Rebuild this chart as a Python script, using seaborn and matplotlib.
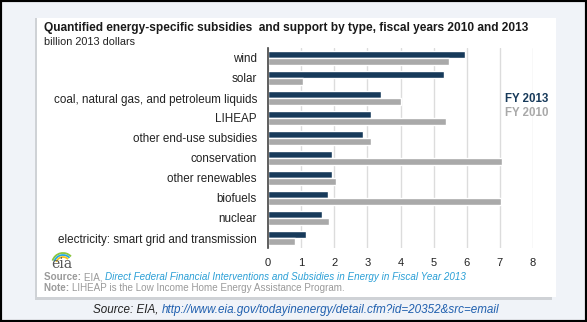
import matplotlib
matplotlib.use("Agg")
import matplotlib.pyplot as plt
import seaborn as sns
import pandas as pd
from matplotlib.patches import Rectangle, Arc

categories = ["wind", "solar", "coal, natural gas, and petroleum liquids", "LIHEAP",
              "other end-use subsidies", "conservation", "other renewables",
              "biofuels", "nuclear", "electricity: smart grid and transmission"]
fy2013 = [5.94, 5.32, 3.42, 3.10, 2.86, 1.94, 1.94, 1.80, 1.64, 1.15]
fy2010 = [5.45, 1.06, 4.03, 5.37, 3.10, 7.07, 2.06, 7.02, 1.85, 0.81]
series = ["FY 2013", "FY 2010"]
xticks = [0, 1, 2, 3, 4, 5, 6, 7, 8]

df = pd.DataFrame({
    "category": categories * 2,
    "value": fy2013 + fy2010,
    "series": [series[0]] * len(categories) + [series[1]] * len(categories),
})

NAVY = "#173a5a"
GRAY = "#a9a9a9"

sns.set_theme(style="white")
plt.rcParams["font.family"] = ["Liberation Sans", "DejaVu Sans"]

W, H = 587, 322
fig = plt.figure(figsize=(W / 100, H / 100), dpi=100)
fig.patch.set_facecolor("#f0f3f8")

def fx(x):
    return x / W

def fy(y):
    return 1 - y / H

# black border
fig.patches.append(Rectangle((0, 0), 1, 1, transform=fig.transFigure, fill=False,
                             edgecolor="black", lw=3, zorder=-3))
# card shadow + card
fig.patches.append(Rectangle((fx(35), fy(300)), fx(552 - 35), (300 - 18) / H,
                             transform=fig.transFigure, facecolor="#cfd2d6",
                             edgecolor="none", zorder=-3))
fig.patches.append(Rectangle((fx(37), fy(297)), fx(556 - 37), (297 - 18) / H,
                             transform=fig.transFigure, facecolor="white",
                             edgecolor="none", zorder=-2))

ax = fig.add_axes([fx(268), fy(248), fx(533 - 268), (248 - 48) / H])
ax.set_facecolor("none")
sns.barplot(data=df, y="category", x="value", hue="series", hue_order=series,
            order=categories, palette=[NAVY, GRAY], orient="h", width=0.72,
            gap=0, saturation=1, ax=ax, legend=False)
ax.set_xlim(0, 8)
ax.set_xticks(xticks)
ax.set_xticklabels([str(t) for t in xticks])
ax.set_xlabel("")
ax.set_ylabel("")
ax.grid(axis="x", color="#dcdcdc", lw=1)
ax.set_axisbelow(True)
for s in ["top", "right", "bottom"]:
    ax.spines[s].set_visible(False)
ax.spines["left"].set_color("#444444")
ax.spines["left"].set_linewidth(1.2)
ax.tick_params(axis="x", length=0, pad=7, labelsize=8, labelcolor="#222222")
ax.tick_params(axis="y", length=0, pad=8, labelsize=8.4, labelcolor="#222222")

# title
fig.text(fx(44), fy(28), "Quantified energy-specific subsidies  and support by type, fiscal years 2010 and 2013",
         fontsize=8.6, fontweight="bold", color="#1a1a1a", va="center", ha="left")
fig.text(fx(44), fy(42), "billion 2013 dollars", fontsize=7.8, color="#222222",
         va="center", ha="left")

# legend
fig.text(fx(505), fy(99), "FY 2013", fontsize=8.3, fontweight="bold", color=NAVY, va="center")
fig.text(fx(505), fy(113), "FY 2010", fontsize=8.3, fontweight="bold", color=GRAY, va="center")

# eia logo
fig.text(fx(62), fy(264), "eia", fontsize=10, family="DejaVu Serif", color="#555555",
         ha="center", va="center")
for r, c in [(11, "#8cc63f"), (9, "#27a9e1"), (7, "#f7c21b")]:
    fig.patches.append(Arc((fx(63), fy(264)), 2 * r / W, 2 * r / H, theta1=60, theta2=150,
                           transform=fig.transFigure, color=c, lw=1.3))

fig.canvas.draw()
renderer = fig.canvas.get_renderer()

def seq(x, y, parts, fs):
    xx = x
    for txt, kw in parts:
        t = fig.text(fx(xx), fy(y), txt, fontsize=fs, va="center", ha="left", **kw)
        bb = t.get_window_extent(renderer=renderer)
        xx += bb.width
    return xx

LG = "#9a9a9a"
seq(44, 277, [("Source: ", dict(color=LG, fontweight="bold")),
              ("EIA, ", dict(color=LG)),
              ("Direct Federal Financial Interventions and Subsidies in Energy in Fiscal Year 2013",
               dict(color="#2a9fd6", style="italic"))], 7.1)
seq(44, 288, [("Note: ", dict(color=LG, fontweight="bold")),
              ("LIHEAP is the Low Income Home Energy Assistance Program.", dict(color=LG))], 7.1)

# bottom caption centered
parts = [("Source: EIA, ", dict(color="#222222", style="italic")),
         ("http://www.eia.gov/todayinenergy/detail.cfm?id=20352&src=email",
          dict(color="#1f5fae", style="italic"))]
total = 0
for txt, kw in parts:
    t = fig.text(0, 0, txt, fontsize=8.4, **kw)
    total += t.get_window_extent(renderer=renderer).width
    t.remove()
seq(296 - total / 2, 310, parts, 8.4)

fig.savefig("out.png", dpi=100, facecolor=fig.get_facecolor())
